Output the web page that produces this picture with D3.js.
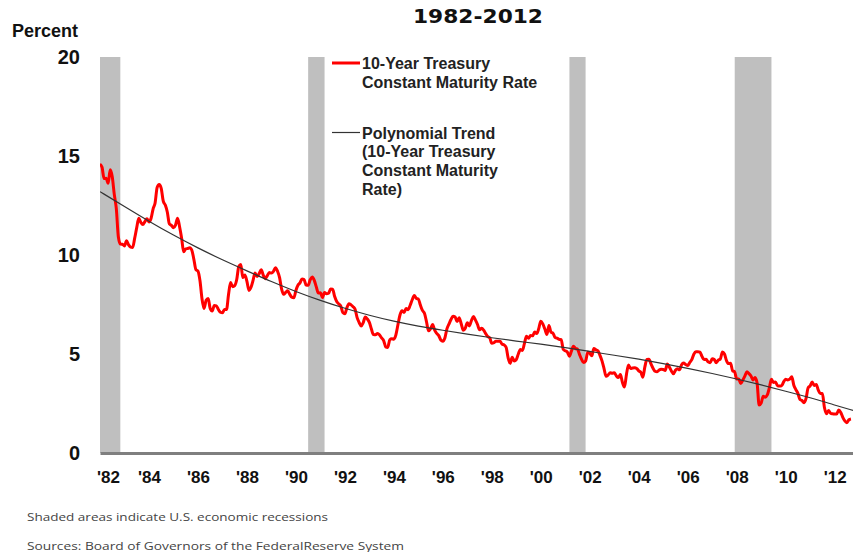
<!DOCTYPE html>
<html>
<head>
<meta charset="utf-8">
<script src="https://cdn.jsdelivr.net/npm/d3@7"></script>
<style>
  html, body { margin: 0; padding: 0; background: #fff; }
  svg { display: block; }
</style>
</head>
<body>
<svg id="chart" width="853" height="552"></svg>
<script>
// 10-Year Treasury Constant Maturity Rate, monthly averages, Jan 1982 onward (percent)
const startYear = 1982;
const treasuryRate = [
  14.59, 14.43, 13.86, 13.87, 13.62, 14.30, 13.95, 13.06, 12.34, 10.91, 10.55, 10.54,
  10.46, 10.72, 10.51, 10.40, 10.38, 10.85, 11.38, 11.85, 11.65, 11.54, 11.69, 11.83,
  11.67, 11.84, 12.32, 12.63, 13.41, 13.56, 13.36, 12.72, 12.52, 12.16, 11.57, 11.50,
  11.38, 11.51, 11.86, 11.43, 10.85, 10.16, 10.31, 10.33, 10.37, 10.24, 9.78, 9.26,
  9.19, 8.70, 7.78, 7.30, 7.71, 7.80, 7.30, 7.17, 7.45, 7.43, 7.25, 7.11,
  7.08, 7.25, 7.25, 8.02, 8.61, 8.40, 8.45, 8.76, 9.42, 9.52, 8.86, 8.99,
  8.67, 8.21, 8.37, 8.72, 9.09, 8.92, 9.06, 9.26, 8.98, 8.80, 8.96, 9.11,
  9.09, 9.17, 9.36, 9.18, 8.86, 8.28, 8.02, 8.11, 8.19, 8.01, 7.87, 7.84,
  8.21, 8.47, 8.59, 8.79, 8.76, 8.48, 8.47, 8.75, 8.89, 8.72, 8.39, 8.08,
  8.09, 7.85, 8.11, 8.04, 8.07, 8.28, 8.27, 7.90, 7.65, 7.53, 7.42, 7.09,
  7.03, 7.34, 7.54, 7.48, 7.39, 7.26, 6.84, 6.59, 6.42, 6.59, 6.87, 6.77,
  6.60, 6.26, 5.98, 5.97, 6.04, 5.96, 5.81, 5.68, 5.36, 5.33, 5.72, 5.77,
  5.75, 5.97, 6.48, 6.97, 7.18, 7.10, 7.30, 7.24, 7.46, 7.74, 7.96, 7.81,
  7.78, 7.47, 7.20, 7.06, 6.63, 6.17, 6.28, 6.49, 6.20, 6.04, 5.93, 5.71,
  5.65, 5.81, 6.27, 6.51, 6.74, 6.91, 6.87, 6.64, 6.83, 6.53, 6.20, 6.30,
  6.58, 6.42, 6.69, 6.89, 6.71, 6.49, 6.22, 6.30, 6.21, 6.03, 5.88, 5.81,
  5.54, 5.57, 5.65, 5.64, 5.65, 5.50, 5.46, 5.34, 4.81, 4.53, 4.83, 4.65,
  4.72, 5.00, 5.23, 5.18, 5.54, 5.90, 5.79, 5.94, 5.92, 6.11, 6.03, 6.28,
  6.66, 6.52, 6.26, 5.99, 6.44, 6.10, 6.05, 5.83, 5.80, 5.74, 5.72, 5.24,
  5.16, 5.10, 4.89, 5.14, 5.39, 5.28, 5.24, 4.97, 4.73, 4.57, 4.65, 5.09,
  5.04, 4.91, 5.28, 5.21, 5.16, 4.93, 4.65, 4.26, 3.87, 3.94, 4.05, 4.03,
  4.05, 3.90, 3.81, 3.96, 3.57, 3.33, 3.98, 4.45, 4.27, 4.29, 4.30, 4.27,
  4.15, 4.08, 3.83, 4.35, 4.72, 4.73, 4.50, 4.28, 4.13, 4.10, 4.19, 4.23,
  4.22, 4.17, 4.50, 4.34, 4.14, 4.00, 4.18, 4.26, 4.20, 4.46, 4.54, 4.47,
  4.42, 4.57, 4.72, 4.99, 5.11, 5.11, 5.09, 4.88, 4.72, 4.73, 4.60, 4.56,
  4.76, 4.72, 4.56, 4.69, 4.75, 5.10, 5.00, 4.67, 4.52, 4.53, 4.15, 4.10,
  3.74, 3.74, 3.51, 3.68, 3.88, 4.10, 4.01, 3.89, 3.69, 3.81, 3.53, 2.42,
  2.52, 2.87, 2.82, 2.93, 3.29, 3.72, 3.56, 3.59, 3.40, 3.39, 3.40, 3.59,
  3.73, 3.69, 3.73, 3.85, 3.42, 3.20, 3.01, 2.70, 2.65, 2.54, 2.76, 3.29,
  3.39, 3.58, 3.41, 3.46, 3.17, 3.00, 3.00, 2.30, 1.98, 2.15, 2.01, 1.98,
  1.97, 1.97, 2.17, 2.05, 1.80, 1.62, 1.53, 1.68, 1.72
];

// Polynomial trend of the rate, sampled at the start of each year
const trendYears = [1982, 1983, 1984, 1985, 1986, 1987, 1988, 1989, 1990, 1991,
  1992, 1993, 1994, 1995, 1996, 1997, 1998, 1999, 2000, 2001,
  2002, 2003, 2004, 2005, 2006, 2007, 2008, 2009, 2010, 2011, 2012, 2012.75];
const trendValues = [13.2, 12.45, 11.7, 11.0, 10.35, 9.75, 9.2, 8.65, 8.15, 7.7,
  7.3, 6.95, 6.65, 6.4, 6.2, 6.0, 5.82, 5.65, 5.5, 5.32,
  5.13, 4.94, 4.74, 4.52, 4.28, 4.02, 3.74, 3.44, 3.12, 2.8, 2.42, 2.15];

// NBER recessions as [start, end] in fractional years
const recessions = [
  [1981.5, 1982.83],
  [1990.5, 1991.17],
  [2001.17, 2001.83],
  [2007.92, 2009.42]
];

const yTicks = [0, 5, 10, 15, 20];
const xTickYears = [1982, 1984, 1986, 1988, 1990, 1992, 1994, 1996, 1998, 2000,
  2002, 2004, 2006, 2008, 2010, 2012];
const xTickLabels = ["'82", "'84", "'86", "'88", "'90", "'92", "'94", "'96", "'98", "'00",
  "'02", "'04", "'06", "'08", "'10", "'12"];

const legendItems = [
  { lines: ["10-Year Treasury", "Constant Maturity Rate"], color: "#ff0000", width: 3 },
  { lines: ["Polynomial Trend", "(10-Year Treasury", "Constant Maturity", "Rate)"], color: "#333333", width: 1.2 }
];

const svg = d3.select("#chart");
const plot = { left: 100, right: 853, top: 57, bottom: 453 };

const x = d3.scaleLinear().domain([1982, 2012.75]).range([plot.left, plot.right]);
const y = d3.scaleLinear().domain([0, 20]).range([plot.bottom, plot.top]);

const labelFont = "'Liberation Sans', Arial, sans-serif";

svg.append("defs").append("clipPath").attr("id", "plotClip")
  .append("rect")
  .attr("x", plot.left).attr("y", plot.top - 10)
  .attr("width", plot.right - plot.left).attr("height", plot.bottom - plot.top + 10);

// Title (second line)
svg.append("text")
  .attr("x", 478).attr("y", 23)
  .attr("text-anchor", "middle")
  .attr("font-family", "'DejaVu Sans', Verdana, sans-serif")
  .attr("font-weight", "bold")
  .attr("font-size", 19)
  .attr("fill", "#111")
  .attr("textLength", 130)
  .attr("lengthAdjust", "spacingAndGlyphs")
  .text("1982-2012");

// Unit label
svg.append("text")
  .attr("x", 12).attr("y", 37)
  .attr("font-family", labelFont)
  .attr("font-weight", "bold")
  .attr("font-size", 18)
  .attr("fill", "#111")
  .text("Percent");

// Recession shading
svg.append("g").attr("clip-path", "url(#plotClip)")
  .selectAll("rect")
  .data(recessions)
  .join("rect")
  .attr("x", d => x(d[0]))
  .attr("width", d => x(d[1]) - x(d[0]))
  .attr("y", y(20))
  .attr("height", y(0) - y(20))
  .attr("fill", "#bfbfbf");

// Y axis labels
const yAxis = d3.axisLeft(y).tickValues(yTicks).tickSize(0).tickPadding(0);
const yG = svg.append("g")
  .attr("transform", `translate(${plot.left - 20},0)`)
  .call(yAxis);
yG.select(".domain").remove();
yG.selectAll("text")
  .attr("font-family", labelFont)
  .attr("font-weight", "bold")
  .attr("font-size", 20)
  .attr("fill", "#111");

// X axis
const xAxis = d3.axisBottom(x)
  .tickValues(xTickYears)
  .tickFormat((d, i) => xTickLabels[i])
  .tickSize(0)
  .tickPadding(18);
const xG = svg.append("g")
  .attr("transform", `translate(0,${plot.bottom})`)
  .call(xAxis);
xG.select(".domain")
  .attr("stroke", "#7f7f7f")
  .attr("stroke-width", 3);
xG.selectAll("text")
  .attr("font-family", labelFont)
  .attr("font-weight", "bold")
  .attr("font-size", 17)
  .attr("fill", "#111");
// keep the first year label clear of the axis corner
xG.selectAll(".tick").filter((d, i) => i === 0).select("text").attr("dx", 8);

// Rate series
const rateData = treasuryRate.map((v, i) => ({ t: startYear + i / 12, v }));
const line = d3.line().x(d => x(d.t)).y(d => y(d.v)).curve(d3.curveMonotoneX);

svg.append("path")
  .datum(rateData)
  .attr("clip-path", "url(#plotClip)")
  .attr("fill", "none")
  .attr("stroke", "#ff0000")
  .attr("stroke-width", 3)
  .attr("stroke-linejoin", "round")
  .attr("d", line);

// Trend
const trendData = trendYears.map((t, i) => ({ t, v: trendValues[i] }));
svg.append("path")
  .datum(trendData)
  .attr("clip-path", "url(#plotClip)")
  .attr("fill", "none")
  .attr("stroke", "#333333")
  .attr("stroke-width", 1.2)
  .attr("d", d3.line().x(d => x(d.t)).y(d => y(d.v)).curve(d3.curveBasis));

// Legend
const legend = svg.append("g").attr("transform", "translate(332,63)");
let ly = 0;
legendItems.forEach(item => {
  const g = legend.append("g").attr("transform", `translate(0,${ly})`);
  g.append("line")
    .attr("x1", 0).attr("x2", 28).attr("y1", 0).attr("y2", 0)
    .attr("stroke", item.color).attr("stroke-width", item.width);
  g.append("text")
    .attr("x", 30).attr("y", 6)
    .attr("font-family", labelFont)
    .attr("font-weight", "bold")
    .attr("font-size", 16)
    .attr("fill", "#222")
    .selectAll("tspan")
    .data(item.lines)
    .join("tspan")
    .attr("x", 30)
    .attr("dy", (d, i) => i === 0 ? 0 : 18.7)
    .text(d => d);
  ly += 69.5;
});

// Notes
const noteFont = "'Open Sans', 'Noto Sans', sans-serif";
svg.append("text")
  .attr("x", 27).attr("y", 521)
  .attr("font-family", noteFont)
  .attr("font-size", 11)
  .attr("fill", "#444")
  .attr("textLength", 301)
  .attr("lengthAdjust", "spacingAndGlyphs")
  .text("Shaded areas indicate U.S. economic recessions");
svg.append("text")
  .attr("x", 27).attr("y", 550)
  .attr("font-family", noteFont)
  .attr("font-size", 11)
  .attr("fill", "#444")
  .attr("textLength", 377)
  .attr("lengthAdjust", "spacingAndGlyphs")
  .text("Sources: Board of Governors of the FederalReserve System");
</script>
</body>
</html>
